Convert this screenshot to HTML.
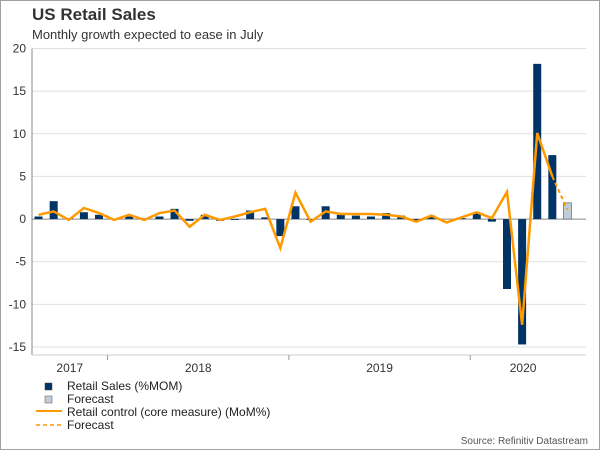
<!DOCTYPE html>
<html><head><meta charset="utf-8"><style>
body{margin:0;background:#fff;font-family:"Liberation Sans",sans-serif}
svg text{font-family:"Liberation Sans",sans-serif}
</style></head><body>
<svg id="c" width="600" height="450" xmlns="http://www.w3.org/2000/svg">
<rect x="0.5" y="0.5" width="599" height="449" fill="#fff" stroke="#a0a0a0"/>
<text x="32" y="20" font-size="17" font-weight="bold" fill="#333">US Retail Sales</text>
<text x="32" y="39" font-size="13" fill="#333">Monthly growth expected to ease in July</text>
<g id="grid"></g><g id="bars"></g><g id="lines"></g><g id="axes"></g>
<g>
<rect x="45" y="383" width="7" height="7" fill="#003366" stroke="#444" stroke-width="0.5"/>
<text x="67" y="390" font-size="12" fill="#222">Retail Sales (%MOM)</text>
<rect x="45" y="396" width="7" height="7" fill="#c0ccd8" stroke="#555" stroke-width="0.5"/>
<text x="67" y="403" font-size="12" fill="#222">Forecast</text>
<line x1="36" y1="411" x2="62" y2="411" stroke="#ff9900" stroke-width="2"/>
<text x="67" y="416" font-size="12" fill="#222">Retail control (core measure) (MoM%)</text>
<line x1="36" y1="425" x2="62" y2="425" stroke="#ff9900" stroke-width="1.5" stroke-dasharray="4,3"/>
<text x="67" y="429" font-size="12" fill="#222">Forecast</text>
</g>
<text x="588" y="444" font-size="10" fill="#555" text-anchor="end">Source: Refinitiv Datastream</text>
</svg>
<script>
const sales=[0.3,2.1,0.1,0.8,0.5,0.0,0.3,0.1,0.3,1.2,-0.2,0.5,-0.2,-0.1,1.0,0.2,-2.0,1.5,-0.1,1.5,0.5,0.4,0.3,0.7,0.4,-0.2,0.4,0.0,0.1,0.7,-0.3,-8.2,-14.7,18.2,7.5,1.9];
const control=[0.5,0.9,-0.1,1.3,0.7,-0.1,0.5,-0.1,0.7,1.0,-0.9,0.5,-0.1,0.3,0.8,1.2,-3.4,3.1,-0.3,0.9,0.6,0.6,0.6,0.5,0.3,-0.3,0.4,-0.4,0.2,0.8,0.1,3.2,-12.4,10.1,5.0,1.1];
const yTicks=[20,15,10,5,0,-5,-10,-15];
const years=["2017","2018","2019","2020"];
const yearStarts=[0,5,17,29];
const yearEnds=[5,17,29,36];
const forecastIndex=35;
const NS="http://www.w3.org/2000/svg";
const X0=32,X1=576,N=sales.length,Y20=48.5,YM15=347;
const step=(X1-X0)/N;
const xc=i=>X0+(i+0.5)*step-1;
const xe=i=>X0+i*step;
const y=v=>Y20+(20-v)*(YM15-Y20)/35;
function mk(t,a,p){const e=document.createElementNS(NS,t);for(const k in a)e.setAttribute(k,a[k]);document.getElementById(p).appendChild(e);return e;}
yTicks.forEach(t=>{
 const g=mk('line',{x1:X0,x2:586,y1:y(t),y2:y(t),stroke:t===0?'#888':'#e0e0e0','stroke-width':1},'grid');
 
 
 const l=mk('text',{x:26,y:y(t)+4,'font-size':12,fill:'#333','text-anchor':'end'},'axes');
 l.textContent=t;
 
 
});
sales.forEach((v,i)=>{
 const f=i===forecastIndex;
 const r=mk('rect',{x:xc(i)-4,width:8,y:Math.min(y(v),y(0)),height:Math.abs(y(v)-y(0)),fill:f?'#c0ccd8':'#003366',stroke:f?'#666':'none','stroke-width':0.7},'bars');
 
 
});
const pts=control.slice(0,forecastIndex).map((v,i)=>xc(i)+','+y(v)).join(' ');
const pl=mk('polyline',{points:pts,fill:'none',stroke:'#ff9900','stroke-width':2.5,'stroke-linejoin':'miter'},'lines');


const fl=mk('line',{x1:xc(forecastIndex-1),y1:y(control[forecastIndex-1]),x2:xc(forecastIndex),y2:y(control[forecastIndex]),stroke:'#ff9900','stroke-width':2,'stroke-dasharray':'4,3'},'lines');


const ax=mk('line',{x1:X0,x2:X0,y1:Y20,y2:355,stroke:'#888'},'axes');


const bx=mk('line',{x1:X0,x2:586,y1:355,y2:355,stroke:'#ccc'},'axes');


years.forEach((yr,k)=>{
 if(k>0){const t=mk('line',{x1:xe(yearStarts[k]),x2:xe(yearStarts[k]),y1:355,y2:360,stroke:'#999'},'axes');
 
 }
 const l=mk('text',{x:(xe(yearStarts[k])+xe(yearEnds[k]))/2,y:372,'font-size':12,fill:'#333','text-anchor':'middle'},'axes');
 l.textContent=yr;
 
 
});
</script>
</body></html>
